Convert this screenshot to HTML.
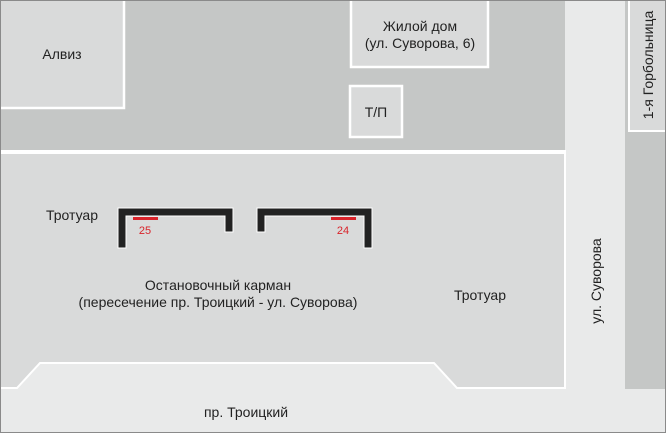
<!DOCTYPE html>
<html><head><meta charset="utf-8"><style>
html,body{margin:0;padding:0}
body{width:666px;height:433px;overflow:hidden;background:#e9eaea;font-family:"Liberation Sans",sans-serif;color:#222}
svg{display:block}
</style></head><body>
<svg width="666" height="433" viewBox="0 0 666 433" xmlns="http://www.w3.org/2000/svg" font-family="Liberation Sans, sans-serif" font-size="14" fill="#222">
<rect x="0" y="0" width="666" height="433" fill="#e9eaea"/>
<rect x="0" y="0" width="565" height="151" fill="#c5c7c6"/>
<polygon points="0,153 565,153 565,388 457,388 434,363 40,363 17,388 0,388" fill="#d9dada" stroke="#fff" stroke-width="2"/>
<rect x="0" y="150" width="566" height="3" fill="#fff"/>
<rect x="625" y="0" width="41" height="389" fill="#c5c7c6"/>
<rect x="629" y="-2" width="40" height="133" fill="#d9dada" stroke="#fff" stroke-width="2"/>
<rect x="-2" y="-2" width="126" height="110" fill="#d9dada" stroke="#fff" stroke-width="2.5"/>
<rect x="351" y="-2" width="137" height="69" fill="#d9dada" stroke="#fff" stroke-width="2.5"/>
<rect x="350" y="86" width="52" height="51" fill="#d9dada" stroke="#fff" stroke-width="2.5"/>
<text x="62" y="59" text-anchor="middle">Алвиз</text>
<text x="420" y="31" text-anchor="middle">Жилой дом</text>
<text x="420" y="48" text-anchor="middle">(ул. Суворова, 6)</text>
<text x="376" y="117" text-anchor="middle">Т/П</text>
<text transform="translate(653,65) rotate(-90)" text-anchor="middle">1-я Горбольница</text>
<path d="M118,248 V208 H233 V232 H225 V216 H126 V248 Z" fill="#222" stroke="#fff" stroke-width="1"/>
<path d="M372,248 V208 H257 V232 H265 V216 H364 V248 Z" fill="#222" stroke="#fff" stroke-width="1"/>
<rect x="133" y="217" width="25" height="3" fill="#d9232a"/>
<rect x="331" y="217" width="25" height="3" fill="#d9232a"/>
<text x="145" y="234" text-anchor="middle" font-size="11" fill="#d9232a">25</text>
<text x="343" y="234" text-anchor="middle" font-size="11" fill="#d9232a">24</text>
<text x="72" y="220" text-anchor="middle">Тротуар</text>
<text x="218" y="290" text-anchor="middle">Остановочный карман</text>
<text x="218" y="307" text-anchor="middle">(пересечение пр. Троицкий - ул. Суворова)</text>
<text x="480" y="300" text-anchor="middle">Тротуар</text>
<text transform="translate(601,281) rotate(-90)" text-anchor="middle">ул. Суворова</text>
<text x="246" y="417" text-anchor="middle">пр. Троицкий</text>
<rect x="0.5" y="0.5" width="665" height="432" fill="none" stroke="#8a8a8a" stroke-width="1"/>
</svg>
</body></html>
